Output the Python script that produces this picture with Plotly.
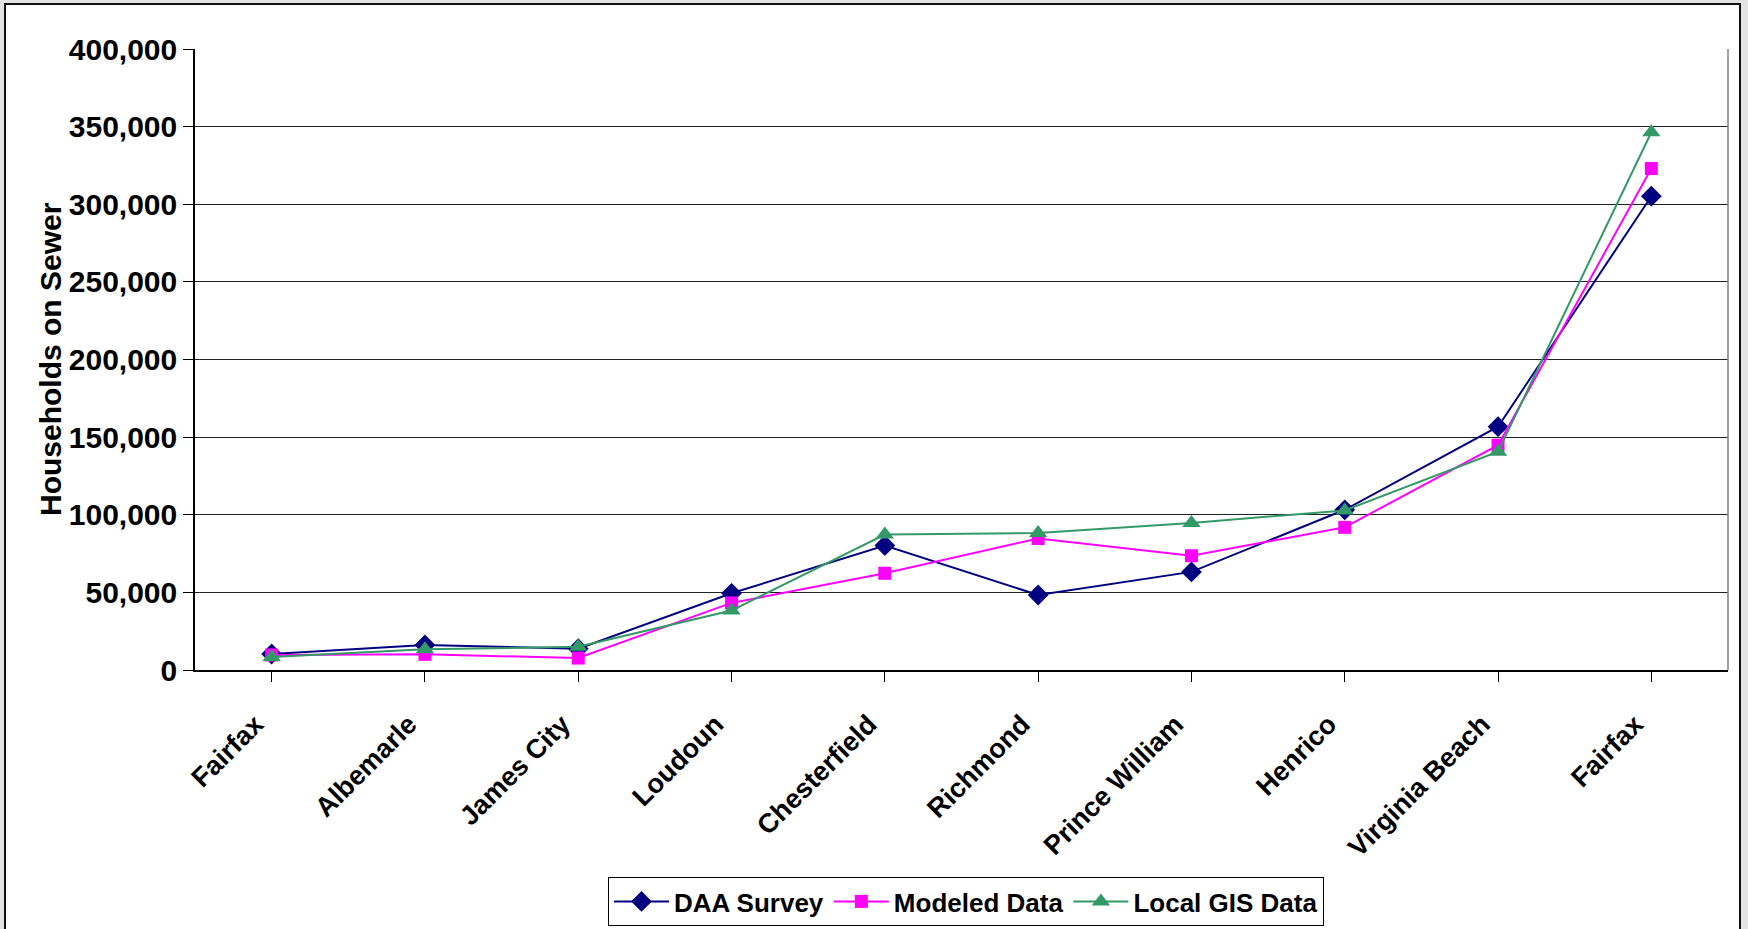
import plotly.graph_objects as go

# Localities in the order they are plotted
categories = ["Fairfax", "Albemarle", "James City", "Loudoun", "Chesterfield",
              "Richmond", "Prince William", "Henrico", "Virginia Beach", "Fairfax"]

# Households on sewer, by data source
daa_survey = [10300, 16100, 13700, 49400, 80200, 48300, 63200, 103200, 156700, 305200]
modeled_data = [9700, 10100, 7700, 43200, 62300, 84700, 73600, 91900, 144800, 323000]
local_gis = [8400, 13300, 15000, 38300, 87200, 88300, 94700, 102800, 140600, 346400]

y_ticks = [0, 50000, 100000, 150000, 200000, 250000, 300000, 350000, 400000]

# Repeated category names need unique x positions; label them through tick text
x_pos = list(range(len(categories)))

W, H = 1748, 929
L, R, T, B = 195, 20, 49, 259
plot_w = W - L - R
plot_h = H - T - B

series = [
    ("DAA Survey", daa_survey, "#000080", "diamond", 16),
    ("Modeled Data", modeled_data, "#FF00FF", "square", 13),
    ("Local GIS Data", local_gis, "#339966", "triangle-up", 16),
]

fig = go.Figure()
for name, vals, color, symbol, size in series:
    fig.add_trace(go.Scatter(
        x=x_pos, y=vals, name=name, mode="lines+markers",
        line=dict(color=color, width=2),
        marker=dict(symbol=symbol, size=size, color=color),
    ))


def px_to_paper_x(px):
    return (px - L) / plot_w


def px_to_paper_y(py):
    return (H - B - py) / plot_h


# White chart frame on a grey page
fig.add_shape(type="rect", xref="paper", yref="paper",
              x0=px_to_paper_x(5), x1=px_to_paper_x(1740),
              y0=px_to_paper_y(960), y1=px_to_paper_y(4),
              fillcolor="white", line=dict(color="#111111", width=2), layer="below")

# Grey border on the right side of the plot area
fig.add_shape(type="line", xref="paper", yref="paper", x0=1, x1=1, y0=0, y1=1,
              line=dict(color="#808080", width=1.5))

# Rotated y-axis title
fig.add_annotation(
    text="Households on Sewer", textangle=-90, showarrow=False,
    xref="paper", yref="paper", x=px_to_paper_x(50), y=px_to_paper_y(359),
    xanchor="center", yanchor="middle",
    font=dict(family="Liberation Sans, Arial", size=30, color="black", weight="bold"),
)

bold_font = "Liberation Sans, Arial"

fig.update_layout(
    width=W, height=H,
    margin=dict(l=L, r=R, t=T, b=B, pad=0, autoexpand=False),
    paper_bgcolor="#e3e3e3",
    plot_bgcolor="white",
    showlegend=True,
    legend=dict(
        orientation="h", x=px_to_paper_x(966), xanchor="center",
        y=px_to_paper_y(877), yanchor="top",
        bgcolor="white", bordercolor="black", borderwidth=1,
        font=dict(family=bold_font, size=26, color="black", weight="bold"),
        itemwidth=55, tracegroupgap=0,
    ),
    xaxis=dict(
        range=[-0.5, len(categories) - 0.5],
        tickmode="array", tickvals=x_pos, ticktext=categories,
        tickson="boundaries", ticks="outside", ticklen=10, tickcolor="black",
        tickangle=-45, ticklabelstandoff=16, ticklabelshift=-16,
        tickfont=dict(family=bold_font, size=27, color="black", weight="bold"),
        showgrid=False, showline=True, linecolor="black", linewidth=1.5,
        zeroline=False, automargin=False,
    ),
    yaxis=dict(
        range=[0, 400000], tickvals=y_ticks, tickformat=",d",
        ticks="outside", ticklen=10, tickcolor="black",
        tickfont=dict(family=bold_font, size=30, color="black", weight="bold"),
        showgrid=True, gridcolor="#222222", gridwidth=1,
        showline=True, linecolor="black", linewidth=1.5,
        zeroline=False, automargin=False,
    ),
)

fig.write_html("out.html")
